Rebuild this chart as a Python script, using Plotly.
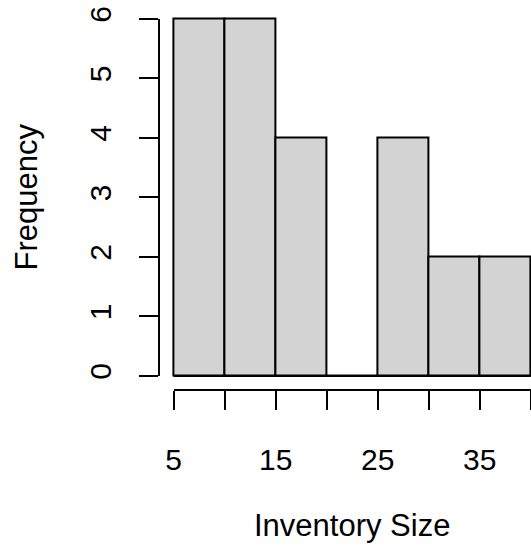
import plotly.graph_objects as go

# Data
bin_edges = [5, 10, 15, 20, 25, 30, 35, 40]
counts = [6, 6, 4, 0, 4, 2, 2]
x_tickvals = [5, 10, 15, 20, 25, 30, 35, 40]
x_ticktext = ["5", "", "15", "", "25", "", "35", ""]
y_tickvals = [0, 1, 2, 3, 4, 5, 6]
y_ticktext = ["0", "1", "2", "3", "4", "5", "6"]
x_title = "Inventory Size"
y_title = "Frequency"

W, H = 531, 546
FONT = "Liberation Sans, Arial, sans-serif"
LW = 2

centers = [(a + b) / 2 for a, b in zip(bin_edges[:-1], bin_edges[1:])]
widths = [b - a for a, b in zip(bin_edges[:-1], bin_edges[1:])]

fig = go.Figure()
fig.add_trace(go.Bar(
    x=centers, y=counts, width=widths,
    marker=dict(color="#D3D3D3", line=dict(color="black", width=LW)),
    xaxis="x", yaxis="y", hoverinfo="skip",
))
# baseline (zero-height bin rectangle edges) along y = 0
fig.add_trace(go.Scatter(
    x=[bin_edges[0], bin_edges[-1]], y=[0, 0], mode="lines",
    line=dict(color="black", width=LW), xaxis="x", yaxis="y", hoverinfo="skip",
))
# invisible trace for the offset (R-style) axes
fig.add_trace(go.Scatter(
    x=[bin_edges[0], bin_edges[-1]], y=[0, max(counts)], mode="markers",
    marker=dict(opacity=0), xaxis="x2", yaxis="y2", hoverinfo="skip",
))

# pixel geometry
px_x5, px_x40 = 173.7, 530.7
py_y0, py_y6 = 376.0, 18.8
ppu_x = (px_x40 - px_x5) / (bin_edges[-1] - bin_edges[0])
ppu_y = (py_y0 - py_y6) / max(y_tickvals)
plot_left = 159.4
plot_bottom = py_y0 + 0.04 * max(y_tickvals) * ppu_y
plot_top = py_y6 - 0.04 * max(y_tickvals) * ppu_y

x_lo = bin_edges[0] - (px_x5 - plot_left) / ppu_x
x_hi = bin_edges[-1] + (W - px_x40) / ppu_x
y_lo = -(plot_bottom - py_y0) / ppu_y
y_hi = max(y_tickvals) + (py_y6 - plot_top) / ppu_y

fig.update_layout(
    width=W, height=H, autosize=False,
    margin=dict(l=0, r=0, t=0, b=0, pad=0, autoexpand=False),
    paper_bgcolor="white", plot_bgcolor="rgba(0,0,0,0)",
    showlegend=False, bargap=0,
    font=dict(family=FONT, size=30, color="black"),
    xaxis=dict(domain=[plot_left / W, 1.0], range=[x_lo, x_hi], visible=False),
    yaxis=dict(domain=[1 - plot_bottom / H, 1 - plot_top / H], range=[y_lo, y_hi], visible=False),
    xaxis2=dict(
        domain=[px_x5 / W, px_x40 / W], range=[bin_edges[0], bin_edges[-1]],
        anchor="free", position=1 - plot_bottom / H, automargin=False,
        showline=True, linecolor="black", linewidth=LW,
        ticks="outside", ticklen=19, tickwidth=LW, tickcolor="black",
        tickvals=x_tickvals, ticktext=x_ticktext,
        showgrid=False, zeroline=False, ticklabelstandoff=24,
        tickfont=dict(family=FONT, size=30, color="black"),
    ),
    yaxis2=dict(
        domain=[1 - py_y0 / H, 1 - py_y6 / H], range=[0, max(y_tickvals)],
        anchor="free", position=plot_left / W, automargin=False,
        showline=True, linecolor="black", linewidth=LW,
        ticks="outside", ticklen=19, tickwidth=LW, tickcolor="black",
        tickvals=y_tickvals, ticktext=y_ticktext, tickangle=-90,
        showgrid=False, zeroline=False, ticklabelstandoff=16,
        tickfont=dict(family=FONT, size=30, color="black"),
    ),
    annotations=[
        dict(text=x_title, xref="paper", yref="paper",
             x=(px_x5 + px_x40) / 2 / W, y=1 - 525 / H,
             xanchor="center", yanchor="middle", showarrow=False,
             font=dict(family=FONT, size=31, color="black")),
        dict(text=y_title, xref="paper", yref="paper",
             x=26 / W, y=1 - (py_y0 + py_y6) / 2 / H, textangle=-90,
             xanchor="center", yanchor="middle", showarrow=False,
             font=dict(family=FONT, size=31, color="black")),
    ],
)

fig.write_html("out.html")
